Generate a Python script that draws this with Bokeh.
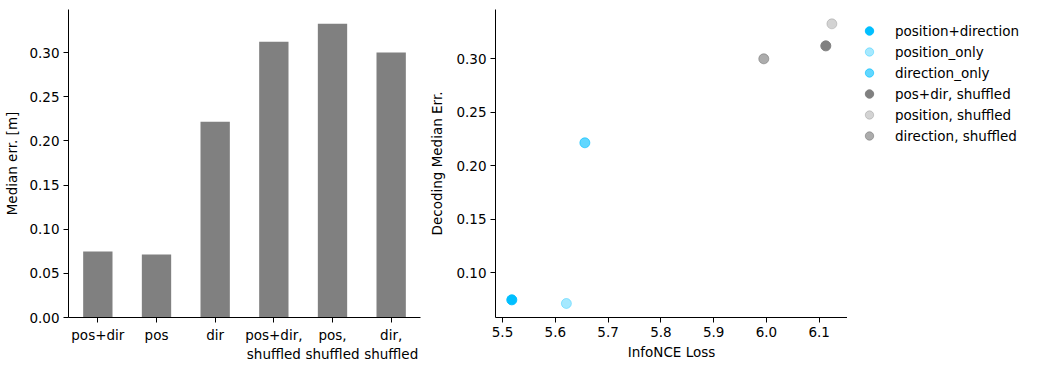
from bokeh.plotting import figure
from bokeh.layouts import row
from bokeh.models import FactorRange, Range1d, FixedTicker, NumeralTickFormatter, Legend, LegendItem
from bokeh.embed import file_html
from bokeh.resources import INLINE

# ---- data ----
bar_labels = ["pos+dir", "pos", "dir", "pos+dir,\nshuffled", "pos,\nshuffled", "dir,\nshuffled"]
median_err = [0.0747, 0.0713, 0.2215, 0.3121, 0.3327, 0.3000]

series_names = ["position+direction", "position_only", "direction_only",
                "pos+dir, shuffled", "position, shuffled", "direction, shuffled"]
infonce_loss = [5.5176, 5.621, 5.656, 6.1125, 6.124, 5.995]
decoding_err = [0.0747, 0.0713, 0.2215, 0.3121, 0.3327, 0.3000]
series_colors = ["#00BFFF", "#00BFFF", "#00BFFF", "#808080", "#808080", "#808080"]
series_alpha = [1.0, 0.35, 0.62, 1.0, 0.35, 0.65]

FONT = "DejaVu Sans"
FS = "13.5px"


def style(p):
    p.outline_line_color = None
    p.xgrid.visible = False
    p.ygrid.visible = False
    for ax in p.axis:
        ax.axis_line_color = "black"
        ax.axis_line_width = 1
        ax.major_tick_in = 0
        ax.major_tick_out = 5
        ax.major_tick_line_color = "black"
        ax.minor_tick_line_color = None
        ax.major_label_text_font = FONT
        ax.major_label_text_font_size = FS
        ax.major_label_text_color = "black"
        ax.axis_label_text_font = FONT
        ax.axis_label_text_font_size = FS
        ax.axis_label_text_font_style = "normal"
        ax.axis_label_text_color = "black"
        ax.major_label_standoff = 4


# ---- left: bar chart ----
p1 = figure(x_range=FactorRange(*bar_labels, range_padding=0), y_range=Range1d(0, 0.3487),
            frame_width=352, frame_height=308, output_backend="svg", toolbar_location=None,
            min_border_left=68, min_border_right=6, min_border_top=9, min_border_bottom=38)
p1.vbar(x=bar_labels, top=median_err, width=0.5, fill_color="#808080", line_color=None)
style(p1)
p1.yaxis.ticker = FixedTicker(ticks=[0, 0.05, 0.10, 0.15, 0.20, 0.25, 0.30])
p1.yaxis.formatter = NumeralTickFormatter(format="0.00")
p1.yaxis.axis_label = "Median err. [m]"
p1.yaxis.axis_label_standoff = 6

# ---- right: scatter ----
p2 = figure(x_range=Range1d(5.4867, 6.1536), y_range=Range1d(0.0582, 0.3461),
            frame_width=352, frame_height=308, output_backend="svg", toolbar_location=None,
            min_border_left=65, min_border_right=0, min_border_top=9, min_border_bottom=38)
for x, y, c, a in zip(infonce_loss, decoding_err, series_colors, series_alpha):
    p2.scatter(x=[x], y=[y], size=10, fill_color=c, line_color=c, fill_alpha=a, line_alpha=a)
style(p2)
p2.xaxis.ticker = FixedTicker(ticks=[5.5, 5.6, 5.7, 5.8, 5.9, 6.0, 6.1])
p2.xaxis.formatter = NumeralTickFormatter(format="0.0")
p2.yaxis.ticker = FixedTicker(ticks=[0.10, 0.15, 0.20, 0.25, 0.30])
p2.yaxis.formatter = NumeralTickFormatter(format="0.00")
p2.xaxis.axis_label = "InfoNCE Loss"
p2.yaxis.axis_label = "Decoding Median Err."
p2.xaxis.axis_label_standoff = 4
p2.yaxis.axis_label_standoff = 8

# ---- legend panel (same series, drawn outside its own view; only the legend shows) ----
p3 = figure(x_range=Range1d(0, 1), y_range=Range1d(0, 1),
            frame_width=180, frame_height=308, output_backend="svg", toolbar_location=None,
            x_axis_location=None, y_axis_location=None,
            min_border_left=0, min_border_right=0, min_border_top=9, min_border_bottom=38)
p3.outline_line_color = None
p3.xgrid.visible = False
p3.ygrid.visible = False
items = []
for name, x, y, c, a in zip(series_names, infonce_loss, decoding_err, series_colors, series_alpha):
    r = p3.scatter(x=[x], y=[y], size=10, fill_color=c, line_color=c, fill_alpha=a, line_alpha=a)
    items.append(LegendItem(label=name, renderers=[r]))
legend = Legend(items=items, location=(7, 171), border_line_color=None,
                background_fill_alpha=0, margin=0, padding=5, spacing=0,
                glyph_width=30, glyph_height=21, label_height=21, label_standoff=11,
                label_text_font=FONT, label_text_font_size=FS, label_text_color="black")
p3.add_layout(legend)

layout = row(p1, p2, p3)
open("out.html", "w").write(file_html(layout, INLINE))
